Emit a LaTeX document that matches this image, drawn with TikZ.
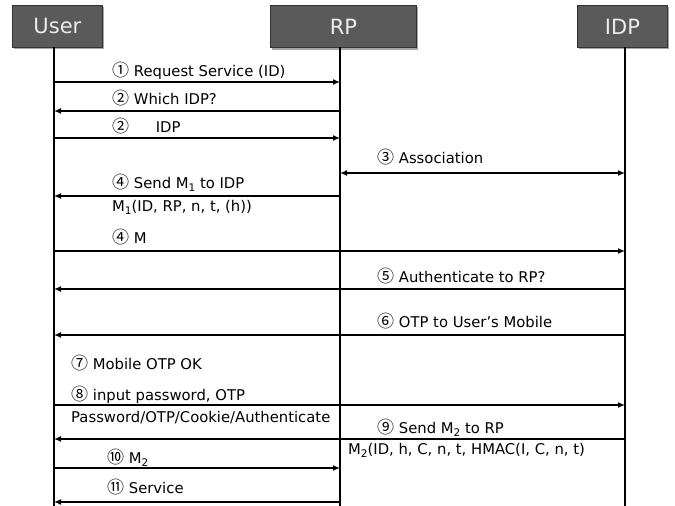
\documentclass[tikz,border=0pt]{standalone}
\usepackage{fontspec}
\setmainfont{DejaVu Sans}
\newfontfamily\cjk{Noto Sans CJK KR}
\usetikzlibrary{arrows.meta}
\definecolor{boxfill}{HTML}{5A5A5A}
\definecolor{boxtext}{HTML}{EDEDED}
\tikzset{
  actor/.style={draw=black!80, line width=0.8pt, fill=boxfill, text=boxtext, font=\fontsize{21}{21}\selectfont,
     minimum height=42pt, inner sep=0pt, anchor=north west},
  life/.style={line width=2pt},
  msg/.style={line width=2pt, -{Latex[length=7pt,width=6pt]}},
  dmsg/.style={line width=2pt, {Latex[length=7pt,width=6pt]}-{Latex[length=7pt,width=6pt]}},
  lbl/.style={anchor=west, inner sep=0pt, font=\fontsize{14.8}{15}\selectfont},
}
\newcommand{\cn}[1]{{\fontsize{17}{17}\selectfont\cjk #1}}
\newcommand{\sbs}[1]{\raisebox{-0.35ex}{\fontsize{10.5}{11}\selectfont #1}}
\begin{document}
\begin{tikzpicture}[x=1pt,y=-1pt]
\useasboundingbox (0,0) rectangle (675,506);
% shadows
\fill[black!35] (14,7) rectangle (104,49);
\fill[black!35] (272,7) rectangle (418,50);
\fill[black!35] (579,7) rectangle (669,49);
% actors
\node[actor, minimum width=90pt] (user) at (12,5) {User};
\node[actor, minimum width=146pt] (rp) at (270,5) {RP};
\node[actor, minimum width=90pt] (idp) at (577,5) {IDP};
% lifeline ends
\coordinate (ue) at (54,506);
\coordinate (re) at (340,506);
\coordinate (ie) at (625,506);
\coordinate (us) at (54,47);
\coordinate (rs) at (340,47);
\coordinate (is) at (625,47);
\draw[life] (us) -- (ue);
\draw[life] (rs) -- (re);
\draw[life] (is) -- (ie);
% message end points
\foreach \n/\y in {1/82,2/111,3/138,a/173,4/196,m/251,5/289,6/335,8/405,9/439,10/468,11/502}{
  \coordinate (u\n) at (54,\y);
  \coordinate (r\n) at (340,\y);
  \coordinate (i\n) at (625,\y);
}
\draw[msg] (u1) -- (r1);
\draw[msg] (r2) -- (u2);
\draw[msg] (u3) -- (r3);
\draw[dmsg] (ra) -- (ia);
\draw[msg] (r4) -- (u4);
\draw[msg] (um) -- (im);
\draw[msg] (i5) -- (u5);
\draw[msg] (i6) -- (u6);
\draw[msg] (u8) -- (i8);
\draw[msg] (i9) -- (u9);
\draw[msg] (u10) -- (r10);
\draw[msg] (r11) -- (u11);
% labels
\node[lbl] (t1) at (112,71) {\cn{①} Request Service (ID)};
\node[lbl] (t2) at (112,98) {\cn{②} Which IDP?};
\node[lbl] (t3) at (112,126) {\cn{②}\hspace{1.8em}IDP};
\node[lbl] (t3a) at (377,157) {\cn{③} Association};
\node[lbl] (t4) at (112,183) {\cn{④} Send M\sbs{1} to IDP};
\node[lbl] (t4b) at (112,207) {M\sbs{1}(ID, RP, n, t, (h))};
\node[lbl] (t4m) at (112,237) {\cn{④} M};
\node[lbl] (t5) at (377,276) {\cn{⑤} Authenticate to RP?};
\node[lbl] (t6) at (377,321) {\cn{⑥} OTP to User's Mobile};
\node[lbl] (t7) at (71,363) {\cn{⑦} Mobile OTP OK};
\node[lbl] (t8) at (71,395) {\cn{⑧} input password, OTP};
\node[lbl] (t8b) at (71,418) {Password/OTP/Cookie/Authenticate};
\node[lbl] (t9) at (377,428) {\cn{⑨} Send M\sbs{2} to RP};
\node[lbl] (t9b) at (348,450) {M\sbs{2}(ID, h, C, n, t, HMAC(I, C, n, t)};
\node[lbl] (t10) at (107,458) {\cn{⑩} M\sbs{2}};
\node[lbl] (t11) at (107,487) {\cn{⑪} Service};
\end{tikzpicture}
\end{document}
